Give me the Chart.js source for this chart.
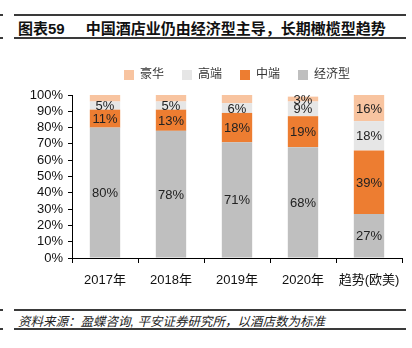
<!DOCTYPE html>
<html>
<head>
<meta charset="utf-8">
<script src="https://cdn.jsdelivr.net/npm/chart.js@4.4.1/dist/chart.umd.min.js"></script>
<style>
    html, body { margin: 0; padding: 0; background: #fff; }
    body { width: 412px; height: 348px; position: relative; overflow: hidden; font-family: "Liberation Sans", "Noto Sans CJK SC", sans-serif; }
    .rule { position: absolute; height: 2px; background: #3a3a3a; }
    .title { position: absolute; left: 18px; top: 17px; font-size: 15px; font-weight: bold; color: #111; white-space: nowrap; }
    .title .num { margin-right: 21px; }
    .source { position: absolute; left: 18px; top: 311px; font-size: 12.5px; font-style: italic; color: #222; white-space: nowrap; }
    #wrap { position: absolute; left: 0; top: 45px; width: 412px; height: 255px; }
</style>
</head>
<body>
<div class="rule" style="left:14px;width:392px;top:14px"></div>
<div class="rule" style="left:0;width:3px;top:14px"></div>
<div class="title"><span class="num">图表59</span>中国酒店业仍由经济型主导，长期橄榄型趋势</div>
<div class="rule" style="left:14px;width:392px;top:37px"></div>
<div class="rule" style="left:0;width:3px;top:37px"></div>

<div id="wrap"><canvas id="mixChart"></canvas></div>

<div class="rule" style="left:14px;width:392px;top:309px"></div>
<div class="rule" style="left:0;width:3px;top:309px"></div>
<div class="source">资料来源：盈蝶咨询, 平安证券研究所，以酒店数为标准</div>
<div class="rule" style="left:14px;width:392px;top:328px"></div>
<div class="rule" style="left:0;width:3px;top:328px"></div>

<script>
const years = ["2017年", "2018年", "2019年", "2020年", "趋势(欧美)"];
const economy = [80, 78, 71, 68, 27];
const midscale = [11, 13, 18, 19, 39];
const upscale = [5, 5, 6, 9, 18];
const luxury = [4, 4, 5, 3, 16];
// top segment is only labelled on the last two bars
const luxuryLabelled = [false, false, false, true, true];

const FONT = "'Liberation Sans', 'Noto Sans CJK SC', sans-serif";

// writes the share inside each stacked segment
const segmentLabels = {
    id: "segmentLabels",
    afterDatasetsDraw(chart) {
        const ctx = chart.ctx;
        ctx.save();
        ctx.font = `13px ${FONT}`;
        ctx.fillStyle = "#222";
        ctx.textAlign = "center";
        ctx.textBaseline = "middle";
        chart.data.datasets.forEach((ds, di) => {
            const meta = chart.getDatasetMeta(di);
            meta.data.forEach((bar, i) => {
                if (ds.label === "豪华" && !luxuryLabelled[i]) return;
                const mid = (bar.y + bar.base) / 2;
                ctx.fillText(`${ds.data[i]}%`, bar.x, mid + 1);
            });
        });
        ctx.restore();
    },
};

// wide item spacing but a short legend box
const legendHeight = {
    id: "legendHeight",
    afterInit(chart) {
        const lg = chart.legend;
        const fit = lg.fit.bind(lg);
        lg.fit = function () { fit(); this.height = 44; };
    },
};

const ctx = document.getElementById("mixChart").getContext("2d");
new Chart(ctx, {
    type: "bar",
    data: {
        labels: years,
        datasets: [
            { label: "经济型", data: economy, backgroundColor: "#BFBFBF" },
            { label: "中端", data: midscale, backgroundColor: "#ED7D31" },
            { label: "高端", data: upscale, backgroundColor: "#E6E6E6" },
            { label: "豪华", data: luxury, backgroundColor: "#F8C4A0" },
        ],
    },
    options: {
        responsive: true,
        maintainAspectRatio: false,
        animation: false,
        layout: { padding: { left: 0, right: 10, top: 6, bottom: 0 } },
        datasets: { bar: { barPercentage: 0.46, categoryPercentage: 1, borderWidth: 0 } },
        plugins: {
            legend: {
                reverse: true,
                fullSize: false,
                labels: {
                    boxWidth: 10,
                    boxHeight: 10,
                    padding: 18,
                    color: "#333",
                    font: { family: FONT, size: 12 },
                },
            },
            tooltip: { enabled: false },
        },
        scales: {
            x: {
                stacked: true,
                grid: { drawOnChartArea: false, color: "#000", tickLength: 5, offset: true },
                border: { color: "#000", width: 1 },
                ticks: { color: "#111", padding: 10, maxRotation: 0, minRotation: 0, autoSkip: false, font: { family: FONT, size: 13 } },
                afterFit: s => { s.height = 42; s.paddingRight = 0; s.paddingLeft = 0; },
            },
            y: {
                stacked: true,
                min: 0,
                max: 100,
                grid: { drawOnChartArea: false, color: "#000", tickLength: 4 },
                border: { color: "#000", width: 1 },
                ticks: { stepSize: 10, autoSkip: false, color: "#111", padding: 5, font: { family: FONT, size: 13 }, callback: v => `${v}%` },
                afterFit: s => { s.width = 72; s.paddingTop = 0; s.paddingBottom = 0; },
            },
        },
    },
    plugins: [segmentLabels, legendHeight],
});
</script>
</body>
</html>
